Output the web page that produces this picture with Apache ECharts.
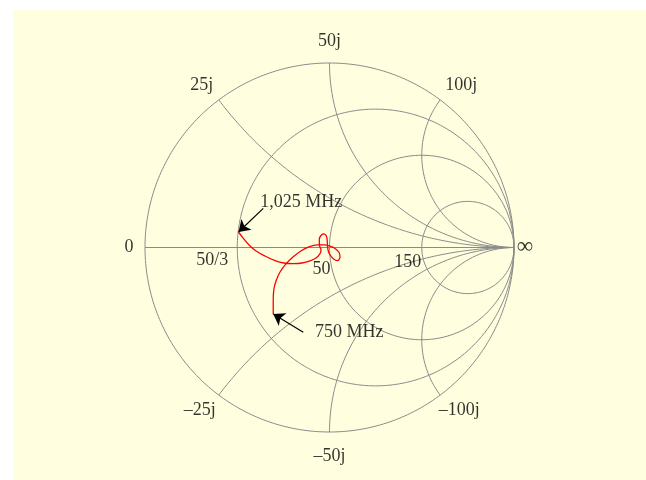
<!DOCTYPE html>
<html><head><meta charset="utf-8">
<script src="https://cdn.jsdelivr.net/npm/echarts/dist/echarts.min.js"></script>
<style>html,body{margin:0;padding:0;background:#fff}#c{width:646px;height:480px}</style>
</head><body><div id="c"></div>
<script>
// Reference impedance and chart grid values (ohms)
const Z0 = 50;
const resistances = [50/3, 50, 150];
const resistanceLabels = ['50/3', '50', '150'];
const reactances = [25, 50, 100];
const reactanceLabels = ['25j', '50j', '100j'];
const negReactanceLabels = ['\u201325j', '\u201350j', '\u2013100j'];
// Measured reflection coefficient trace, 750 MHz -> 1,025 MHz (real, imaginary parts)
const traceRe = [-0.305,-0.305,-0.302,-0.290,-0.268,-0.236,-0.198,-0.155,-0.111,-0.068,-0.030,0.003,0.030,0.052,0.057,0.043,0.022,0.000,-0.010,-0.012,-0.017,-0.029,-0.043,-0.055,-0.055,-0.046,-0.052,-0.073,-0.106,-0.149,-0.198,-0.247,-0.295,-0.350,-0.398,-0.436,-0.469,-0.493];
const traceIm = [-0.360,-0.285,-0.230,-0.182,-0.133,-0.089,-0.052,-0.019,0.003,0.014,0.014,0.008,-0.005,-0.027,-0.052,-0.071,-0.062,-0.035,-0.003,0.035,0.062,0.074,0.069,0.046,0.014,-0.014,-0.035,-0.057,-0.073,-0.084,-0.087,-0.084,-0.071,-0.046,-0.019,0.014,0.052,0.084];
const markerLabels = ['750 MHz', '1,025 MHz'];

const FONT = 'Liberation Serif';
const GRID_COLOR = '#8a8a8a';

function gammaOf(r, x) { // normalized z = r + jx -> reflection coefficient
  const den = (r + 1) * (r + 1) + x * x;
  return [(r * r + x * x - 1) / den, (2 * x) / den];
}
const series = [];
function gridLine(pts) {
  series.push({type: 'line', data: pts, showSymbol: false, silent: true, clip: false,
    lineStyle: {color: GRID_COLOR, width: 1}, z: 1, animation: false});
}
// outer circle and real axis
(function () {
  const pts = [];
  for (let i = 0; i <= 360; i++) { const t = i / 360 * 2 * Math.PI; pts.push([Math.cos(t), Math.sin(t)]); }
  gridLine(pts);
  gridLine([[-1, 0], [1, 0]]);
})();
resistances.forEach(R => {
  const rn = R / Z0, c = rn / (1 + rn), a = 1 / (1 + rn), pts = [];
  for (let i = 0; i <= 360; i++) { const t = i / 360 * 2 * Math.PI; pts.push([c + a * Math.cos(t), a * Math.sin(t)]); }
  gridLine(pts);
});
reactances.forEach(X => {
  [1, -1].forEach(s => {
    const xn = s * X / Z0, pts = [];
    for (let i = 0; i <= 400; i++) { const r = Math.tan(i / 400 * Math.PI / 2 * 0.9995); pts.push(gammaOf(r, xn)); }
    pts.push([1, 0]);
    gridLine(pts);
  });
});
// trace
series.push({type: 'line', data: traceRe.map((v, i) => [v, traceIm[i]]), showSymbol: false, smooth: 0.35,
  clip: false, lineStyle: {color: '#ff0000', width: 1.3}, z: 3, animation: false});

// labels
function labelPoint(pt, text, offset, size) {
  const lab = {show: true, formatter: text, offset: offset};
  if (size) lab.fontSize = size;
  return {value: pt, label: lab};
}
const labelData = [];
labelData.push(labelPoint([-1, 0], '0', [-16, 0]));
labelData.push(labelPoint([1, 0], '\u221e', [11, -1], 23));
const resOffsets = [[-25, 13], [-8, 22], [-14, 15]];
resistances.forEach((R, i) => labelData.push(labelPoint(gammaOf(R / Z0, 0), resistanceLabels[i], resOffsets[i])));
const posOffsets = [[-17, -15], [0, -22], [21, -15]];
const negOffsets = [[-19, 15], [0, 24], [19, 15]];
reactances.forEach((X, i) => {
  labelData.push(labelPoint(gammaOf(0, X / Z0), reactanceLabels[i], posOffsets[i]));
  labelData.push(labelPoint(gammaOf(0, -X / Z0), negReactanceLabels[i], negOffsets[i]));
});
// annotation arrows: tails placed beside the trace ends
const n = traceRe.length;
const startPt = [traceRe[0], traceIm[0]], endPt = [traceRe[n - 1], traceIm[n - 1]];
const tail750 = [startPt[0] + 0.163, startPt[1] - 0.099];
const tail1025 = [endPt[0] + 0.134, endPt[1] + 0.128];
labelData.push(labelPoint(tail750, markerLabels[0], [46, 0]));
labelData.push(labelPoint(tail1025, markerLabels[1], [38, -6]));

series.push({type: 'scatter', data: labelData, symbolSize: 0, clip: false, silent: true, z: 5, animation: false,
  label: {position: 'inside', color: '#000', fontFamily: FONT, fontSize: 18}});
series.push({type: 'lines', coordinateSystem: 'cartesian2d', polyline: false, silent: true, z: 6, animation: false,
  symbol: ['none', 'arrow'], symbolSize: 11,
  lineStyle: {color: '#000', width: 1.2, opacity: 1},
  data: [{coords: [tail750, startPt]}, {coords: [tail1025, endPt]}]});

const chart = echarts.init(document.getElementById('c'), null, {renderer: 'canvas'});
chart.setOption({
  backgroundColor: '#ffffff',
  animation: false,
  graphic: [{type: 'rect', shape: {x: 13, y: 10, width: 640, height: 480}, style: {fill: '#ffffe0'}, z: -10, silent: true}],
  grid: {left: 145, top: 63, width: 369, height: 369},
  xAxis: {type: 'value', min: -1, max: 1, show: false},
  yAxis: {type: 'value', min: -1, max: 1, show: false},
  series: series
});
</script></body></html>
